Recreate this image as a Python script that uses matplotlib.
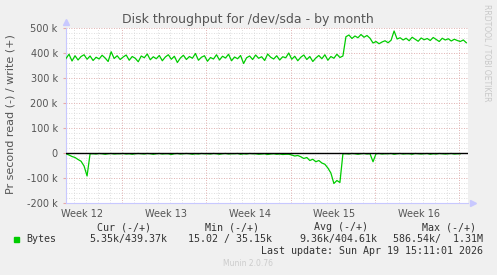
import numpy as np
import matplotlib
matplotlib.use("Agg")
import matplotlib.pyplot as plt
from matplotlib.patches import Rectangle

# write (+) in k, one sample per 6 hours
write_k = [
    378, 395, 368, 389, 372, 386, 393, 375, 388, 370,
    383, 376, 391, 380, 366, 405, 378, 389, 374, 384,
    392, 371, 386, 379, 365, 388, 381, 396, 373, 385,
    377, 390, 369, 384, 393, 375, 387, 362, 380, 391,
    374, 386, 379, 398, 371, 383, 389, 367, 382, 376,
    393, 372, 387, 380, 395, 369, 384, 377, 390, 358,
    381, 388, 374, 392, 379, 385, 370, 396, 383, 376,
    389, 372, 385, 381, 400, 375, 387, 369, 383, 392,
    374, 386, 366, 380, 390, 377, 393, 371, 386, 379,
    395, 382, 388,
    465, 472, 458, 468, 461, 474, 463, 470, 459,
    440, 446, 437, 444, 449, 441, 451,
    488,
    456, 461, 452, 459, 449, 463, 455, 447, 460, 453,
    458, 450, 462, 454, 446, 459, 452, 457, 448, 455,
    450, 446, 452, 441,
]

# read (-) in k, same sampling
read_k = [
    -3, -8, -14, -18, -26, -33, -52, -92, -3,
    -3, -4, -2, -3, -5, -3, -2, -4, -3, -3,
    -2, -4, -3, -5, -3, -2, -3, -4, -2, -3,
    -5, -3, -2, -4, -3, -3, -6, -3, -2, -4,
    -3, -2, -3, -5, -3, -4, -2, -3, -3, -4,
    -2, -3, -5, -3, -2, -4, -3, -3, -2, -5,
    -3, -4, -2, -3, -3, -5, -4, -3, -6, -4,
    -3, -5, -4, -6, -5,
    -5, -8, -12, -10, -15, -22, -18, -30, -25, -35,
    -30, -40, -45, -60, -80, -122, -110, -118,
    -3, -3, -4, -2, -3, -5, -3, -2, -4, -3,
    -35, -3, -2, -4, -3, -3, -2, -5, -3, -2,
    -4, -3, -3, -5, -2, -3, -4, -3, -2, -5,
    -3, -4, -2, -3, -4, -3, -2, -4, -3, -3,
]

week_labels = ["Week 12", "Week 13", "Week 14", "Week 15", "Week 16"]
legend_headers = ["Cur (-/+)", "Min (-/+)", "Avg (-/+)", "Max (-/+)"]
legend_values = ["5.35k/439.37k", "15.02 / 35.15k", "9.36k/404.61k", "586.54k/  1.31M"]

W, H = 497, 275
BG = "#f0f0f0"
GREEN = "#00cc00"
AXCOL = "#c8c8ff"
MINOR = "#d4d4d4"
MAJOR = "#e8a8a8"

fig = plt.figure(figsize=(W / 100, H / 100), dpi=100, facecolor=BG)
ax = fig.add_axes([66 / W, (H - 203) / H, (468 - 66) / W, 175 / H])
ax.set_facecolor("white")

span = 402 / 12.04
ax.set_xlim(0, span)
ax.set_ylim(-200, 500)

# grid: minor per day / 20k, major per week / 100k
for d in np.arange(0.65, span, 1.0):
    ax.axvline(d, color=MINOR, lw=0.6, ls=(0, (1, 2)), zorder=1)
for d in np.arange(4.65, span, 7.0):
    ax.axvline(d, color=MAJOR, lw=0.6, ls=(0, (1, 2)), zorder=1.5)
for v in range(-200, 501, 20):
    ax.axhline(v, color=MINOR, lw=0.6, ls=(0, (1, 2)), zorder=1)
for v in range(-200, 501, 100):
    ax.axhline(v, color=MAJOR, lw=0.6, ls=(0, (1, 2)), zorder=1.5)

t = np.arange(len(write_k)) * 0.25
ax.plot(t, write_k, color=GREEN, lw=0.9, zorder=3)
t2 = np.arange(len(read_k)) * 0.25
ax.plot(t2, read_k, color=GREEN, lw=0.9, zorder=3)
ax.axhline(0, color="black", lw=1.0, zorder=4)

for s in ["top", "right"]:
    ax.spines[s].set_visible(False)
for s in ["left", "bottom"]:
    ax.spines[s].set_color(AXCOL)
    ax.spines[s].set_linewidth(0.8)

# arrows at axis ends
ax.plot([0], [1.035], marker="^", color=AXCOL, ms=4, transform=ax.transAxes, clip_on=False)
ax.plot([1.012], [0], marker=">", color=AXCOL, ms=4, transform=ax.transAxes, clip_on=False)

yt = list(range(-200, 501, 100))
ax.set_yticks(yt, [("%d k" % v) if v != 0 else "0" for v in yt])
ax.set_xticks(np.arange(len(week_labels)) * 7 + 1.3, week_labels)
ax.tick_params(axis="y", length=2, color=MAJOR, pad=4, labelsize=7, labelcolor="#555555")
ax.tick_params(axis="x", length=0, pad=4, labelsize=7, labelcolor="#555555")

fig.text(248 / W, 1 - 19 / H, "Disk throughput for /dev/sda - by month",
         ha="center", va="center", fontsize=9, color="#555555")
fig.text(11 / W, 1 - 114 / H, "Pr second read (-) / write (+)", rotation=90,
         ha="center", va="center", fontsize=8, color="#555555")
fig.text(487 / W, 1 - 53 / H, "RRDTOOL / TOBI OETIKER", rotation=270,
         ha="center", va="center", fontsize=5.5, color="#c8c8c8")

mono = dict(family="DejaVu Sans Mono", fontsize=7.2, color="#333333", va="center")
fig.patches.append(Rectangle((14 / W, 1 - 242 / H), 5 / W, 5 / H,
                             transform=fig.transFigure, color=GREEN))
fig.text(26 / W, 1 - 239 / H, "Bytes", ha="left", **mono)
head_right = [151, 259, 368, 476]
val_right = [167, 272, 377, 483]
for h, x in zip(legend_headers, head_right):
    fig.text(x / W, 1 - 227 / H, h, ha="right", **mono)
for v, x in zip(legend_values, val_right):
    fig.text(x / W, 1 - 239 / H, v, ha="right", **mono)
fig.text(483 / W, 1 - 251 / H, "Last update: Sun Apr 19 15:11:01 2026", ha="right", **mono)
fig.text(248 / W, 1 - 264 / H, "Munin 2.0.76", ha="center", va="center",
         fontsize=5.5, color="#cccccc")

fig.savefig("out.png", dpi=100, facecolor=BG)
